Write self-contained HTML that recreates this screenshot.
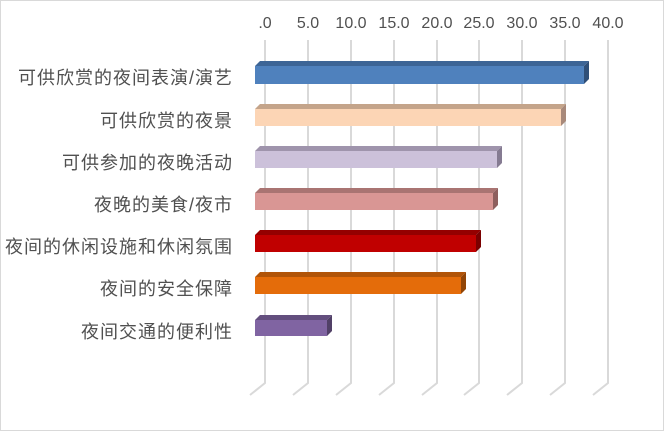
<!DOCTYPE html>
<html><head><meta charset="utf-8"><style>
html,body{margin:0;padding:0;background:#fff}
svg{display:block}
text{font-family:"Liberation Sans","Noto Sans CJK SC",sans-serif;fill:#404040;font-size:14px}
.yl{font-size:18px;letter-spacing:1px;fill:#505050}
text.tk{font-size:16px;fill:#505050}
</style></head><body>
<svg width="664" height="431" viewBox="0 0 664 431">
<rect x="0.5" y="0.5" width="663" height="430" fill="#fff" stroke="#d9d9d9"/>
<g stroke="#d9d9d9" stroke-width="2" fill="none">
<polyline points="265,40 265,383 250,395"/>
<polyline points="308,40 308,383 293,395"/>
<polyline points="351,40 351,383 336,395"/>
<polyline points="394,40 394,383 379,395"/>
<polyline points="437,40 437,383 422,395"/>
<polyline points="479,40 479,383 464,395"/>
<polyline points="522,40 522,383 507,395"/>
<polyline points="565,40 565,383 550,395"/>
<polyline points="608,40 608,383 593,395"/>
</g>
<g text-anchor="middle">
<text class="tk" x="265" y="28">.0</text><text class="tk" x="308" y="28">5.0</text><text class="tk" x="351" y="28">10.0</text><text class="tk" x="394" y="28">15.0</text><text class="tk" x="437" y="28">20.0</text><text class="tk" x="479" y="28">25.0</text><text class="tk" x="522" y="28">30.0</text><text class="tk" x="565" y="28">35.0</text><text class="tk" x="608" y="28">40.0</text>
</g>
<g text-anchor="end">
<text class="yl" x="233" y="84">可供欣赏的夜间表演/演艺</text>
<text class="yl" x="233" y="127">可供欣赏的夜景</text>
<text class="yl" x="233" y="169">可供参加的夜晚活动</text>
<text class="yl" x="233" y="211">夜晚的美食/夜市</text>
<text class="yl" x="233" y="253">夜间的休闲设施和休闲氛围</text>
<text class="yl" x="233" y="295">夜间的安全保障</text>
<text class="yl" x="233" y="338">夜间交通的便利性</text>
</g>
<g>
<polygon points="255,66 260,61 589,61 584,66" fill="#3d6596"/><polygon points="584,66 589,61 589,79 584,84" fill="#2f4f78"/><rect x="255" y="66" width="329" height="18" fill="#4f81bd"/>
<polygon points="255,109 260,104 566,104 561,109" fill="#c4a48a"/><polygon points="561,109 566,104 566,121 561,126" fill="#a8897a"/><rect x="255" y="109" width="306" height="17" fill="#fcd5b5"/>
<polygon points="255,151 260,146 502,146 497,151" fill="#9f94ac"/><polygon points="497,151 502,146 502,163 497,168" fill="#857b92"/><rect x="255" y="151" width="242" height="17" fill="#ccc1da"/>
<polygon points="255,193 260,188 498,188 493,193" fill="#a97472"/><polygon points="493,193 498,188 498,205 493,210" fill="#8e5f5e"/><rect x="255" y="193" width="238" height="17" fill="#d99694"/>
<polygon points="255,235 260,230 481,230 476,235" fill="#940000"/><polygon points="476,235 481,230 481,247 476,252" fill="#7a0000"/><rect x="255" y="235" width="221" height="17" fill="#c00000"/>
<polygon points="255,277 260,272 466,272 461,277" fill="#b15408"/><polygon points="461,277 466,272 466,289 461,294" fill="#924506"/><rect x="255" y="277" width="206" height="17" fill="#e46c0a"/>
<polygon points="255,320 260,315 332,315 327,320" fill="#634e7e"/><polygon points="327,320 332,315 332,331 327,336" fill="#514067"/><rect x="255" y="320" width="72" height="16" fill="#8064a2"/>
</g>
</svg>
</body></html>
